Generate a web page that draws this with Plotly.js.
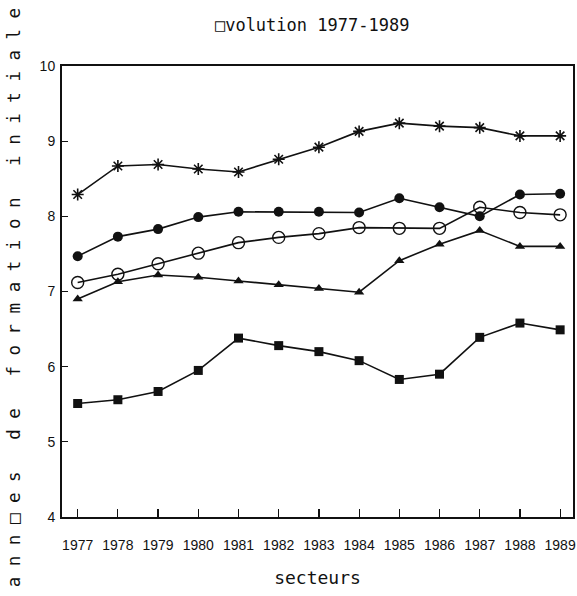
<!DOCTYPE html>
<html>
<head>
<meta charset="utf-8">
<script src="https://cdn.plot.ly/plotly-3.0.1.min.js"></script>
<style>html,body{margin:0;padding:0;background:#fff;}#chart{width:577px;height:596px;}</style>
</head>
<body>
<div id="chart"></div>
<script>
var years = [1977,1978,1979,1980,1981,1982,1983,1984,1985,1986,1987,1988,1989];
var yearLabels = ["1977","1978","1979","1980","1981","1982","1983","1984","1985","1986","1987","1988","1989"];
var seriesStar     = [8.29,8.67,8.69,8.63,8.59,8.76,8.92,9.13,9.24,9.20,9.18,9.07,9.07];
var seriesFilled   = [7.47,7.73,7.83,7.99,8.06,8.06,8.06,8.05,8.24,8.12,8.00,8.29,8.30];
var seriesOpen     = [7.12,7.23,7.37,7.51,7.65,7.72,7.77,7.85,7.84,7.84,8.12,8.05,8.02];
var seriesTriangle = [6.90,7.13,7.22,7.19,7.14,7.09,7.04,6.99,7.41,7.63,7.81,7.60,7.60];
var seriesSquare   = [5.51,5.56,5.67,5.95,6.38,6.28,6.20,6.08,5.83,5.90,6.39,6.58,6.49];

var titleText = "\u25A1volution 1977-1989";
var xTitleText = "secteurs";
var yTitleText = "ann\u25A1es de formation initiale";

function spaced(s){ return s.split("").join(" "); }

var lineStyle = {color:"#111", width:1.6};
function tr(y, sym, size, lineW){
  return {x: years, y: y, type:"scatter", mode:"lines+markers",
    line: lineStyle, cliponaxis:false,
    marker:{symbol:sym, size:size, color:"#111", line:{color:"#111", width:lineW}}};
}
var data = [
  tr(seriesStar, "asterisk-open", 10, 1.6),
  tr(seriesFilled, "circle", 10, 0),
  tr(seriesOpen, "circle-open", 12, 1.4),
  tr(seriesTriangle, "triangle-up", 9, 0),
  tr(seriesSquare, "square", 9, 0)
];

var tickFont = {family:"Liberation Sans, Arial, sans-serif", size:14, color:"#111"};
var monoFont = {family:"DejaVu Sans Mono, monospace", size:17, color:"#111"};

var layout = {
  width:577, height:596,
  margin:{l:62, r:4, t:65.5, b:79.3, pad:0},
  paper_bgcolor:"#fff", plot_bgcolor:"#fff",
  showlegend:false,
  title:{text:titleText, font:monoFont, x:0.541, xanchor:"center", y:0.958, yanchor:"middle"},
  xaxis:{range:[1976.61,1989.32], tickvals:years, ticktext:yearLabels,
    ticks:"inside", ticklen:8, tickwidth:1.2, tickcolor:"#111",
    showline:true, linecolor:"#111", linewidth:2, mirror:true,
    showgrid:false, zeroline:false, tickfont:tickFont, ticklabelstandoff:14,
    title:{text:xTitleText, font:{family:"DejaVu Sans Mono, monospace", size:18, color:"#111"}, standoff:20}},
  yaxis:{range:[4,10], tickvals:[4,5,6,7,8,9,10],
    ticks:"inside", ticklen:6, tickwidth:1.2, tickcolor:"#111",
    showline:true, linecolor:"#111", linewidth:2, mirror:true,
    showgrid:false, zeroline:false, tickfont:tickFont, ticklabelstandoff:2},
  annotations:[{text:spaced(yTitleText), xref:"paper", yref:"paper",
    x:-0.094, y:0.487, xanchor:"center", yanchor:"middle", textangle:-90,
    showarrow:false, font:{family:"DejaVu Sans Mono, monospace", size:17.5, color:"#111"}}]
};
Plotly.newPlot("chart", data, layout, {staticPlot:true, displayModeBar:false});
</script>
</body>
</html>
